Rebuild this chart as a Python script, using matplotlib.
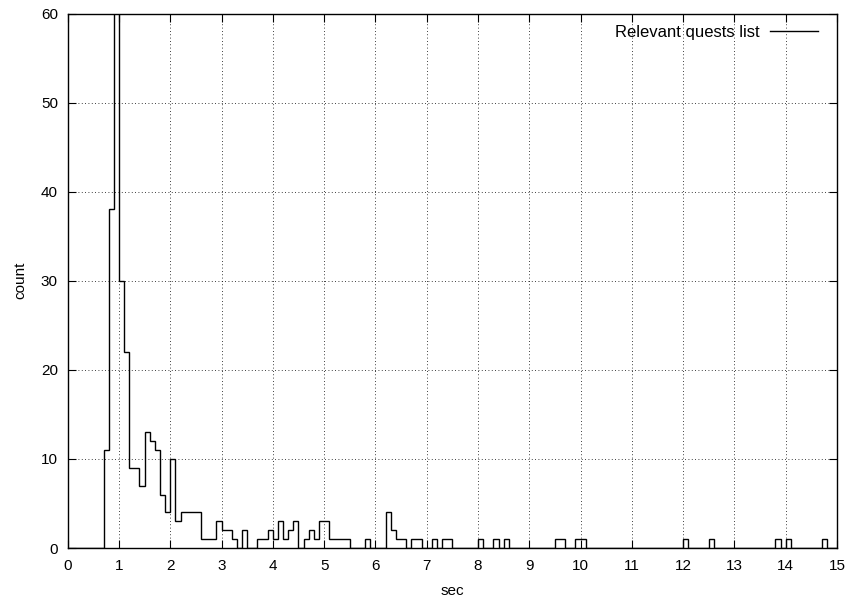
import numpy as np
import matplotlib
matplotlib.use('Agg')
import matplotlib.pyplot as plt

plt.rcParams['font.family'] = ['Liberation Sans', 'DejaVu Sans']

# istogramma: inizio bin (sec) e conteggi, bin da 0.1 s (bin vuoti omessi)
bin_start = [0.7, 0.8, 0.9, 1.0, 1.1, 1.2, 1.3, 1.4, 1.5, 1.6, 1.7, 1.8, 1.9,
             2.0, 2.1, 2.2, 2.3, 2.4, 2.5, 2.6, 2.7, 2.8, 2.9,
             3.0, 3.1, 3.2, 3.4, 3.7, 3.8, 3.9,
             4.0, 4.1, 4.2, 4.3, 4.4, 4.6, 4.7, 4.8, 4.9,
             5.0, 5.1, 5.2, 5.3, 5.4, 5.8,
             6.2, 6.3, 6.4, 6.5, 6.7, 6.8,
             7.1, 7.3, 7.4, 8.0, 8.3, 8.5, 9.5, 9.6, 9.9,
             10.0, 12.0, 12.5, 13.8, 14.0, 14.7]
counts = [11, 38, 75, 30, 22, 9, 9, 7, 13, 12, 11, 6, 4,
          10, 3, 4, 4, 4, 4, 1, 1, 1, 3,
          2, 2, 1, 2, 1, 1, 2,
          1, 3, 1, 2, 3, 1, 2, 1, 3,
          3, 1, 1, 1, 1, 1,
          4, 2, 1, 1, 1, 1,
          1, 1, 1, 1, 1, 1, 1, 1, 1,
          1, 1, 1, 1, 1, 1]

bw = 0.1
nbin = 150
edges = np.round(np.arange(nbin + 1) * bw, 1)
vals = np.zeros(nbin)
for s, c in zip(bin_start, counts):
    vals[int(round(s / bw))] = c

fig = plt.figure(figsize=(8.49, 6.03), dpi=100)
ax = fig.add_axes([0.0797, 0.0912, 0.9062, 0.8864])

ax.stairs(vals, edges, color='black', lw=1.0, label='Relevant quests list')

ax.set_xlim(0, 15)
ax.set_ylim(0, 60)
ax.set_xticks(range(0, 16))
ax.set_yticks(range(0, 61, 10))
ax.grid(True, color='black', linestyle=(0, (1, 3)), linewidth=0.6)
ax.tick_params(direction='in', top=True, right=True, length=5.8,
               labelsize=11, width=0.8)
ax.tick_params(axis='x', pad=8)
ax.tick_params(axis='y', pad=7)
for sp in ax.spines.values():
    sp.set_linewidth(1.0)

ax.set_xlabel('sec', fontsize=11, labelpad=8)
ax.set_ylabel('count', fontsize=11, labelpad=10)

leg = ax.legend(loc='upper right', bbox_to_anchor=(1.0, 1.015),
                frameon=False, markerfirst=False,
                handlelength=2.9, handletextpad=0.6, fontsize=12,
                borderaxespad=0.75)

plt.savefig('out.png', dpi=100)
